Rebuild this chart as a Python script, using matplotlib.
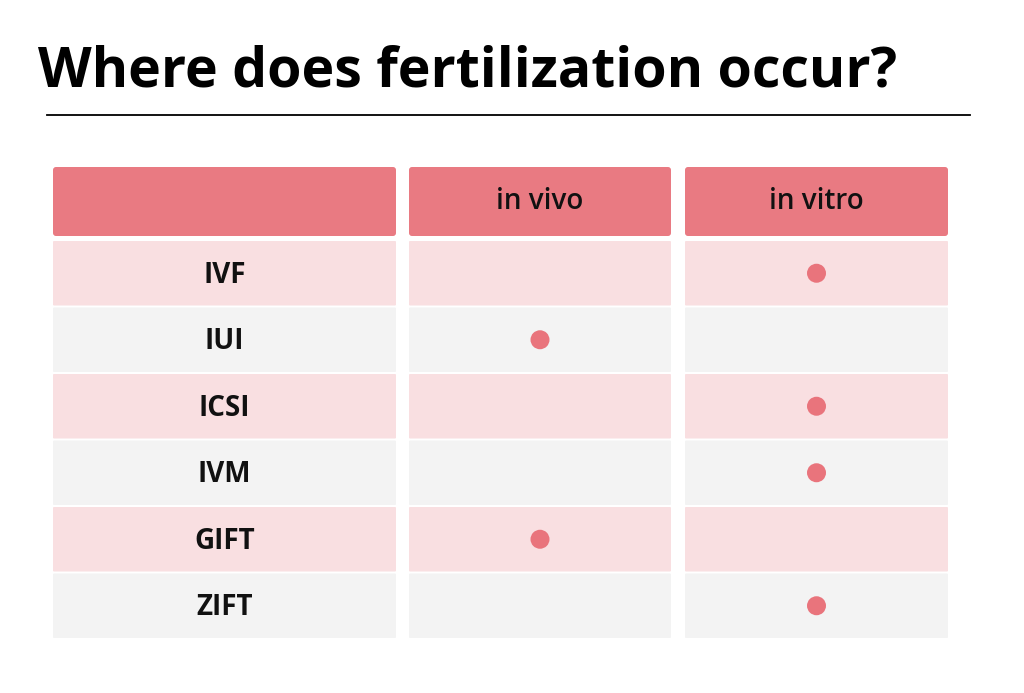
import matplotlib
matplotlib.use("Agg")
import matplotlib.pyplot as plt
from matplotlib.patches import FancyBboxPatch, Circle

title = "Where does fertilization occur?"
columns = ["in vivo", "in vitro"]
methods = ["IVF", "IUI", "ICSI", "IVM", "GIFT", "ZIFT"]
in_vivo = [0, 1, 0, 0, 1, 0]
in_vitro = [1, 0, 1, 1, 0, 1]

W, H = 1024, 693
fig = plt.figure(figsize=(W/100, H/100), dpi=100)
ax = fig.add_axes([0, 0, 1, 1])
ax.set_xlim(0, W); ax.set_ylim(H, 0); ax.axis("off")

head = "#e97a82"; pink = "#f9dfe1"; gray = "#f3f3f3"; dot = "#e9747c"
font = "Open Sans"

ax.text(38, 72, title, fontsize=40, fontweight="bold", family=font, va="center", ha="left", color="black")
ax.plot([47, 970], [115, 115], color="black", lw=1.3)

col_x = [(53, 396), (409, 671), (685, 948)]
hy0, hy1 = 167, 236
row_top, row_h = 241, 66.5

def box(x0, x1, y0, y1, c, r=3):
    ax.add_patch(FancyBboxPatch((x0, y0), x1-x0, y1-y0, boxstyle=f"round,pad=0,rounding_size={r}",
                                fc=c, ec="none"))

for (x0, x1) in col_x:
    box(x0, x1, hy0, hy1, head)
for j, name in enumerate(columns):
    x0, x1 = col_x[j+1]
    ax.text((x0+x1)/2, (hy0+hy1)/2, name, fontsize=20, fontweight="semibold", family=font,
            ha="center", va="center", color="#111111")

for i, m in enumerate(methods):
    y0 = row_top + i*row_h
    y1 = y0 + row_h - 2
    c = pink if i % 2 == 0 else gray
    for (x0, x1) in col_x:
        box(x0, x1, y0, y1, c, r=1)
    cy = (y0+y1)/2
    ax.text((col_x[0][0]+col_x[0][1])/2, cy+2, m, fontsize=20, fontweight="bold", family=font,
            ha="center", va="center", color="#111111")
    for j, flags in enumerate([in_vivo, in_vitro]):
        if flags[i]:
            x0, x1 = col_x[j+1]
            ax.add_patch(Circle(((x0+x1)/2, cy), 9.5, fc=dot, ec="none"))

fig.savefig("out.png", dpi=100, facecolor="white")
